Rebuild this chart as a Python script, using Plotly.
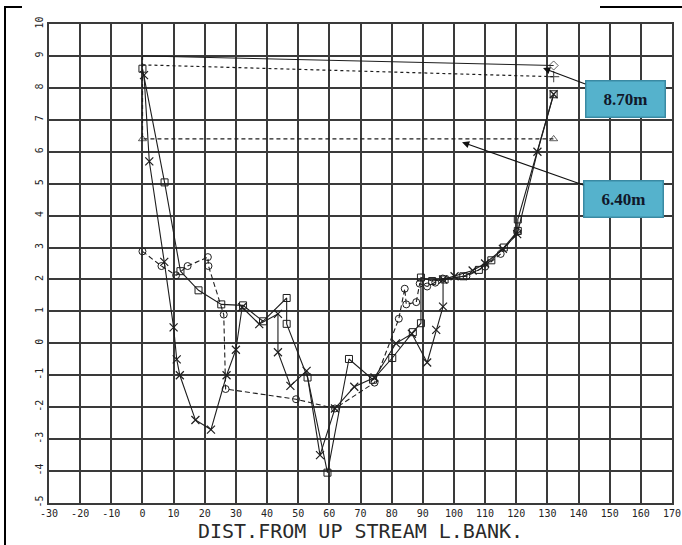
import plotly.graph_objects as go

# ---- data (read from the scanned cross-section) ----
x_cross = [0.5, 2.2, 7.0, 10.0, 11.0, 12.0, 17.0, 22.0, 27.0, 30.0, 32.0, 37.5, 43.5, 43.5,
           47.5, 52.7, 57.0, 61.8, 68.0, 74.5, 81.4, 86.5, 91.4, 94.3, 96.5, 96.5, 100.2,
           106.0, 110.0, 115.7, 120.3, 126.8, 132.0]
y_cross = [8.4, 5.7, 2.55, 0.5, -0.5, -1.0, -2.4, -2.7, -1.0, -0.2, 1.13, 0.6, 0.92, -0.28,
           -1.33, -0.86, -3.5, -2.04, -1.36, -1.07, 0.0, 0.3, -0.6, 0.42, 1.15, 2.0, 2.1,
           2.28, 2.5, 2.96, 3.42, 6.0, 7.8]

x_square = [0.0, 7.1, 12.2, 18.0, 25.3, 32.3, 38.7, 46.3, 46.3, 53.0, 59.4, 66.3, 74.0,
            80.2, 86.8, 89.4, 89.4, 93.0, 97.0, 103.0, 108.0, 112.0, 116.0, 120.5, 120.5, 132.0]
y_square = [8.6, 5.04, 2.26, 1.66, 1.22, 1.19, 0.69, 1.42, 0.61, -1.07, -4.05, -0.49, -1.14,
            -0.46, 0.35, 0.63, 2.06, 1.95, 2.0, 2.1, 2.3, 2.6, 3.0, 3.52, 3.88, 7.8]

x_circle = [0.0, 6.1, 10.8, 14.5, 21.0, 21.2, 26.1, 26.7, 49.3, 61.8, 74.5, 82.3, 84.2,
            84.7, 87.9, 89.0, 91.4, 94.0, 96.4, 104.0, 110.0, 115.0, 120.3]
y_circle = [2.88, 2.42, 2.13, 2.42, 2.7, 2.42, 0.9, -1.43, -1.75, -2.04, -1.23, 0.77, 1.71,
            1.22, 1.29, 1.87, 1.78, 1.9, 2.03, 2.1, 2.4, 2.8, 3.49]

x_diamond = [0.0, 132.0]
y_diamond = [9.0, 8.7]
x_plus = [0.0, 132.0]
y_plus = [8.72, 8.35]
x_tri = [0.0, 0.0, 132.0]
y_tri = [9.0, 6.4, 6.4]

x_ticks = list(range(-30, 171, 10))
y_ticks = list(range(-5, 11, 1))

labels = ["8.70m", "6.40m"]
label_targets_x = [128.6, 102.6]
label_targets_y = [8.62, 6.30]

# ---- layout geometry (pixels) ----
W, H = 682, 545
L, R, T, B = 49, 10, 24, 42
pw, ph = W - L - R, H - T - B

def px(xp):
    return (xp - L) / pw

def py(yp):
    return (H - B - yp) / ph

ink = "#1e1e1e"
fig = go.Figure()

fig.add_trace(go.Scatter(x=x_diamond, y=y_diamond, mode="lines+markers",
                         line=dict(color=ink, width=1),
                         marker=dict(symbol="diamond-open", size=[0, 7], color=ink,
                                     line=dict(width=1, color=ink))))
fig.add_trace(go.Scatter(x=x_plus, y=y_plus, mode="lines+markers",
                         line=dict(color=ink, width=1.2, dash="dot"),
                         marker=dict(symbol="cross-thin-open", size=[0, 8], color=ink,
                                     line=dict(width=1.2, color=ink))))
fig.add_trace(go.Scatter(x=x_tri, y=y_tri, mode="lines+markers",
                         line=dict(color=ink, width=1.3, dash="4px,3px"),
                         marker=dict(symbol="triangle-up-open", size=[0, 7, 7], color=ink,
                                     line=dict(width=1, color=ink))))
fig.add_trace(go.Scatter(x=x_circle, y=y_circle, mode="lines+markers",
                         line=dict(color=ink, width=1.1, dash="5px,3px"),
                         marker=dict(symbol="circle-open", size=7, color=ink,
                                     line=dict(width=1, color=ink))))
fig.add_trace(go.Scatter(x=x_square, y=y_square, mode="lines+markers",
                         line=dict(color=ink, width=1.1),
                         marker=dict(symbol="square-open", size=7, color=ink,
                                     line=dict(width=1, color=ink))))
fig.add_trace(go.Scatter(x=x_cross, y=y_cross, mode="lines+markers",
                         line=dict(color=ink, width=1.1),
                         marker=dict(symbol="x-thin-open", size=8, color=ink,
                                     line=dict(width=1.2, color=ink))))

annotations = []
for i, lab in enumerate(labels):
    annotations.append(dict(
        x=label_targets_x[i], y=label_targets_y[i], xref="x", yref="y",
        text="<b>" + lab + "</b>", showarrow=True,
        ax=[82, 161][i], ay=[31, 57][i], axref="pixel", ayref="pixel",
        arrowhead=2, arrowsize=1.3, arrowwidth=1.1, arrowcolor="#111",
        font=dict(family="Liberation Serif", size=17, color="#10182a"),
        bgcolor="#55B2CC", bordercolor="#3A8AA3", borderwidth=1.5,
        width=76, height=33, align="center", valign="middle",
    ))

shapes = [
    dict(type="line", xref="paper", yref="paper", x0=px(5), x1=px(5), y0=py(6), y1=py(545),
         line=dict(color="black", width=2)),
    dict(type="line", xref="paper", yref="paper", x0=px(5), x1=px(22), y0=py(7), y1=py(7),
         line=dict(color="black", width=2)),
    dict(type="line", xref="paper", yref="paper", x0=px(600), x1=px(682), y0=py(7), y1=py(7),
         line=dict(color="black", width=2)),
]

fig.update_layout(
    width=W, height=H, margin=dict(l=L, r=R, t=T, b=B, pad=0, autoexpand=False),
    paper_bgcolor="white", plot_bgcolor="white", showlegend=False,
    annotations=annotations, shapes=shapes,
    xaxis=dict(range=[-30, 170], tickvals=x_ticks, ticktext=[str(v) for v in x_ticks],
               automargin=False,
               showgrid=True, gridcolor="#3a3a3a", gridwidth=1.5, zeroline=False,
               showline=True, linecolor="#3a3a3a", linewidth=1.5, mirror=True,
               ticks="", ticklen=0,
               tickfont=dict(family="DejaVu Sans Mono", size=10, color="#222"),
               title=dict(text="DIST.FROM UP STREAM L.BANK.", standoff=6,
                          font=dict(family="DejaVu Sans Mono", size=20, color="#2a2a2a"))),
    yaxis=dict(range=[-5, 10], tickvals=y_ticks, ticktext=[str(v) for v in y_ticks],
               automargin=False,
               showgrid=True, gridcolor="#3a3a3a", gridwidth=1.5, zeroline=False,
               showline=True, linecolor="#3a3a3a", linewidth=1.5, mirror=True,
               ticks="", ticklen=0, tickangle=-90,
               tickfont=dict(family="DejaVu Sans Mono", size=10, color="#222")),
)

fig.write_html("out.html")
